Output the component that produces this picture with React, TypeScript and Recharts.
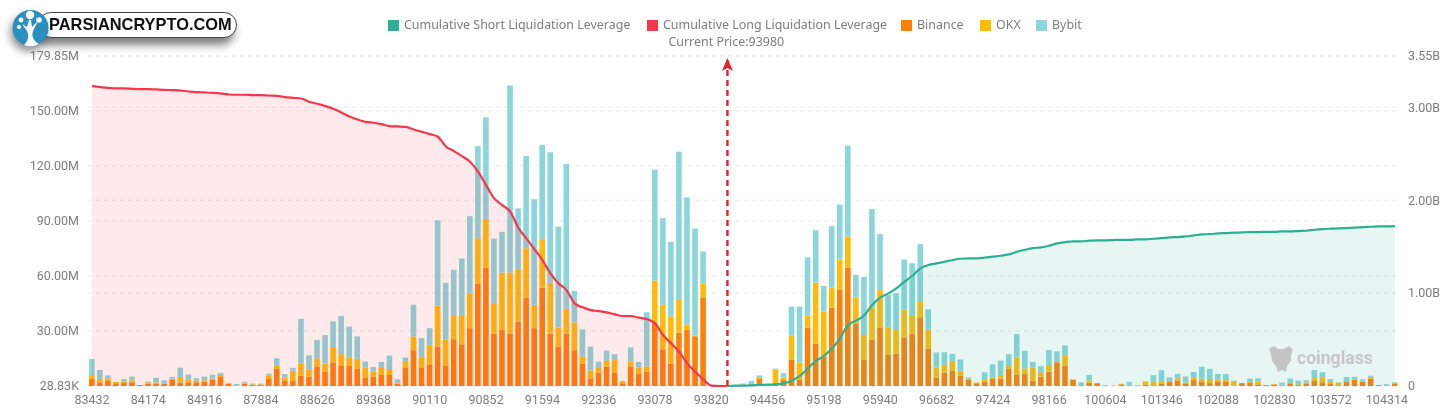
import React from "react";
import {
  ComposedChart, Bar, Area, XAxis, YAxis, CartesianGrid, ReferenceLine, Legend,
} from "recharts";

const prices = [
  83432, 83538, 83644, 83750, 83856, 83962, 84068, 84174, 84280, 84386, 84492, 84598, 84704, 84810, 84916,
  85022, 85128, 85234, 87566, 87672, 87778, 87884, 87990, 88096, 88202, 88308, 88414, 88520, 88626,
  88732, 88838, 88944, 89050, 89156, 89262, 89368, 89474, 89580, 89686, 89792, 89898, 90004, 90110,
  90216, 90322, 90428, 90534, 90640, 90746, 90852, 90958, 91064, 91170, 91276, 91382, 91488, 91594,
  91700, 91806, 91912, 92018, 92124, 92230, 92336, 92442, 92548, 92654, 92760, 92866, 92972, 93078,
  93184, 93290, 93396, 93502, 93608, 93714, 93820, 93926, 93980, 94032, 94138, 94244, 94350, 94456,
  94562, 94668, 94774, 94880, 94986, 95092, 95198, 95304, 95410, 95516, 95622, 95728, 95834, 95940,
  96046, 96152, 96258, 96364, 96470, 96576, 96682, 96788, 96894, 97000, 97106, 97212, 97318, 97424,
  97530, 97636, 97742, 97848, 97954, 98060, 98166, 98272, 98378, 100180, 100286, 100392, 100498,
  100604, 100710, 100816, 100922, 101028, 101134, 101240, 101346, 101452, 101558, 101664, 101770, 101876, 101982,
  102088, 102194, 102300, 102406, 102512, 102618, 102724, 102830, 102936, 103042, 103148, 103254, 103360, 103466,
  103572, 103678, 103784, 103890, 103996, 104102, 104208, 104314, 104420,
];

const binance = [
  3.8, 2.0, 2.7, 1.5, 1.6, 2.0, 0.5, 1.3, 1.3, 1.1, 3.3, 1.8, 2.0, 2.0, 2.4, 3.6, 4.9, 1.3, 0.2, 1.3,
  0.5, 0.5, 3.8, 9.3, 2.7, 2.7, 5.5, 5.1, 10.4, 7.8, 12.9, 10.9, 10.9, 9.3, 4.7, 5.1, 6.0, 6.0, 1.3, 9.8,
  19.5, 10.2, 11.5, 21.6, 10.9, 25.5, 22.7, 31.5, 55.8, 64.4, 28.5, 30.5, 28.5, 35.1, 48.2, 31.5, 53.6, 28.5, 21.3, 28.5,
  19.5, 12.2, 4.2, 7.1, 10.4, 7.3, 1.5, 10.7, 6.9, 7.8, 34.5, 20.0, 12.2, 29.1, 30.5, 27.1, 48.2, 0, 0, 0,
  0, 0.5, 0.5, 3.8, 0.2, 1.5, 3.3, 14.4, 3.3, 31.8, 23.1, 16.0, 42.7, 52.4, 64.5, 33.8, 14.5, 25.3, 31.6, 16.9,
  17.6, 26.5, 28.4, 37.5, 20.2, 4.5, 7.3, 8.2, 5.6, 3.3, 1.5, 2.4, 3.8, 4.0, 9.3, 6.0, 6.7, 2.9, 5.1, 7.8,
  12.9, 11.1, 3.5, 0, 1.8, 1.5, 0.2, 0.1, 0.5, 0.2, 0.2, 0.7, 0.4, 1.1, 2.2, 2.9, 1.5, 3.3, 2.5, 1.6,
  2.2, 2.5, 0.2, 1.6, 1.8, 0.9, 0.5, 0.7, 0.2, 1.1, 0.5, 1.1, 2.7, 2.0, 1.1, 0.4, 2.2, 3.3, 2.4, 4.0,
  0.5, 0.1, 1.3,
];

const okx = [
  2.2, 1.8, 1.5, 0.7, 0.9, 1.1, 0, 0.7, 0.7, 0.4, 0.7, 3.1, 1.5, 0.9, 0.7, 0.5, 1.1, 0.2, 0.2, 0.5,
  0.4, 0.4, 1.8, 1.6, 2.0, 5.6, 6.7, 4.0, 4.7, 4.4, 7.8, 6.4, 4.4, 5.5, 5.3, 2.9, 3.8, 3.3, 0.5, 3.3,
  7.5, 5.5, 10.4, 22.2, 14.4, 12.7, 15.5, 18.7, 24.7, 26.7, 16.7, 31.3, 33.3, 28.2, 26.9, 12.7, 26.5, 27.8, 10.5, 13.6,
  15.1, 4.0, 4.2, 2.7, 3.3, 6.9, 0.7, 2.5, 3.3, 2.9, 22.9, 24.4, 25.8, 17.8, 3.1, 0.5, 7.8, 0, 0, 0,
  0, 0.4, 0.5, 0.5, 0, 7.3, 1.3, 12.9, 9.5, 6.7, 33.3, 24.5, 10.9, 16.5, 16.9, 14.4, 13.3, 17.5, 20.7, 15.1,
  12.9, 15.1, 9.8, 8.7, 10.5, 5.6, 4.2, 5.5, 2.7, 0.7, 0.4, 1.3, 0.9, 2.0, 1.6, 9.6, 2.9, 7.1, 2.4, 3.6,
  0.7, 5.3, 0, 0, 1.3, 0, 0, 0.1, 0.7, 0.4, 0.2, 1.5, 2.2, 1.1, 0.5, 1.3, 0.4, 1.1, 1.6, 2.2,
  1.5, 0.7, 2.0, 0, 0.9, 1.5, 0, 0.4, 0.4, 0.7, 0.4, 0.7, 1.6, 2.4, 1.1, 1.5, 0.5, 0.2, 0.4, 1.1,
  0, 0, 0.5,
];

const bybit = [
  8.7, 4.9, 1.6, 0, 1.3, 2.0, 0, 0.4, 2.5, 1.6, 0.9, 5.1, 2.7, 1.3, 2.0, 2.0, 1.1, 0.2, 0.7, 0.5,
  0.4, 0.4, 1.1, 4.2, 1.8, 1.6, 24.4, 7.6, 10.0, 15.5, 14.5, 20.9, 17.1, 12.2, 3.3, 2.4, 3.3, 7.3, 1.8, 2.4,
  17.3, 10.4, 9.6, 46.5, 30.9, 25.1, 31.3, 42.4, 50.2, 55.3, 35.1, 22.2, 102.0, 33.5, 50.2, 57.6, 51.3, 71.1, 55.1, 78.9,
  17.3, 14.7, 13.1, 3.5, 5.6, 3.1, 0.5, 7.8, 2.9, 29.5, 60.5, 47.1, 40.5, 80.7, 69.1, 58.2, 17.3, 0, 0, 0,
  0, 0.5, 1.8, 1.5, 0.2, 0.7, 2.4, 16.0, 30.4, 31.6, 28.5, 14.0, 33.5, 30.0, 49.6, 12.4, 31.6, 53.6, 30.5, 17.6,
  20.0, 27.3, 28.7, 31.1, 11.1, 8.2, 6.9, 3.8, 6.2, 0.7, 0, 3.8, 7.1, 7.8, 6.4, 12.7, 9.6, 3.1, 3.3, 8.2,
  5.3, 5.8, 0, 2.0, 2.9, 0, 0.2, 0, 0, 1.6, 0, 0.4, 3.3, 6.4, 2.0, 2.4, 3.3, 3.3, 6.4, 5.6,
  2.9, 3.3, 0.7, 0, 1.3, 1.8, 0, 0, 1.3, 2.2, 2.0, 1.3, 4.4, 3.1, 1.6, 0.2, 2.2, 1.5, 0.9, 0.5,
  0, 0.9, 0.4,
];

const cumulativeLong = [
  3.229, 3.215, 3.208, 3.201, 3.201, 3.197, 3.194, 3.194, 3.19, 3.186, 3.183, 3.179, 3.168, 3.161, 3.158, 3.154,
  3.147, 3.136, 3.133, 3.133, 3.129, 3.129, 3.125, 3.122, 3.108, 3.1, 3.093, 3.057, 3.036, 3.011, 2.982, 2.943,
  2.9, 2.867, 2.842, 2.832, 2.817, 2.796, 2.792, 2.787, 2.76, 2.735, 2.71, 2.681, 2.577, 2.527, 2.473, 2.412,
  2.305, 2.161, 2.018, 1.946, 1.875, 1.703, 1.588, 1.473, 1.355, 1.211, 1.104, 1.032, 0.889, 0.846, 0.817, 0.806,
  0.792, 0.771, 0.753, 0.753, 0.735, 0.72, 0.674, 0.548, 0.459, 0.369, 0.244, 0.154, 0.072, 0.004, 0, 0,
];

const cumulativeShort = [
  0, 0.004, 0.004, 0.007, 0.011, 0.014, 0.018, 0.029, 0.057, 0.108, 0.19, 0.269, 0.323, 0.405, 0.513, 0.656,
  0.703, 0.76, 0.871, 0.95, 0.996, 1.05, 1.122, 1.186, 1.265, 1.301, 1.319, 1.337, 1.355, 1.369, 1.373, 1.373,
  1.38, 1.391, 1.401, 1.416, 1.444, 1.466, 1.484, 1.491, 1.509, 1.534, 1.548, 1.556, 1.556, 1.563, 1.566, 1.566,
  1.57, 1.573, 1.573, 1.577, 1.577, 1.584, 1.591, 1.599, 1.602, 1.609, 1.62, 1.631, 1.634, 1.642, 1.645, 1.649,
  1.652, 1.656, 1.656, 1.659, 1.659, 1.663, 1.663, 1.667, 1.67, 1.681, 1.688, 1.692, 1.695, 1.699, 1.703, 1.71,
  1.713, 1.717, 1.717, 1.72,
];

const SHORT_START = 79;
const CURRENT_PRICE = 93980;
const leftTicks = [0.02883, 30, 60, 90, 120, 150, 179.85];
const rightTicks = [0, 1, 2, 3, 3.55];
const legendItems = [
  { name: "Cumulative Short Liquidation Leverage", color: "#2bb096", width: 259 },
  { name: "Cumulative Long Liquidation Leverage", color: "#f6364c", width: 254 },
  { name: "Binance", color: "#ff8008", width: 79 },
  { name: "OKX", color: "#ffbb0a", width: 56 },
  { name: "Bybit", color: "#8ad6da", width: 60 },
];

const data = prices.map((price, i) => ({
  price,
  binance: binance[i],
  okx: okx[i],
  bybit: bybit[i],
  long: i < cumulativeLong.length ? cumulativeLong[i] : null,
  short: i >= SHORT_START ? cumulativeShort[i - SHORT_START] : null,
}));

const FONT = "Roboto, sans-serif";
const GREY = "#7d7d7d";
const GRID = "#ececec";

function leftLabel(v: number) {
  return v < 1 ? "28.83K" : v.toFixed(2) + "M";
}
function rightLabel(v: number) {
  return v === 0 ? "0" : v.toFixed(2) + "B";
}

function ChartLegend() {
  return (
    <div style={{ display: "flex", fontFamily: "'Noto Sans', sans-serif", fontSize: 12.45, color: GREY, lineHeight: "16px" }}>
      {legendItems.map((it) => (
        <div key={it.name} style={{ display: "flex", alignItems: "center", width: it.width, whiteSpace: "nowrap" }}>
          <span style={{ width: 11, height: 11, background: it.color, marginRight: 5, display: "inline-block" }} />
          {it.name}
        </div>
      ))}
    </div>
  );
}

function PriceLabel(props: any) {
  const { viewBox } = props;
  const x = viewBox.x;
  const top = viewBox.y;
  return (
    <g>
      <polygon points={`${x},${top + 2} ${x - 5.5},${top + 15} ${x},${top + 12} ${x + 5.5},${top + 15}`} fill="#e8202f" />
      <text x={x - 59} y={top - 10} fontSize={12.45} fontFamily="'Noto Sans', sans-serif" fill={GREY}>
        Current Price:{CURRENT_PRICE}
      </text>
    </g>
  );
}

function Logo() {
  return (
    <div style={{ position: "absolute", left: 0, top: 0, width: 260, height: 56, zIndex: 5 }}>
      <div
        style={{
          position: "absolute", left: 38, top: 12, width: 197, height: 24, borderRadius: 13,
          background: "#fff", border: "1px solid #444", boxShadow: "-3px 7px 9px rgba(0,0,0,0.5)",
        }}
      />
      <svg width={60} height={50} style={{ position: "absolute", left: 0, top: 0, overflow: "visible" }}>
        <circle cx={30.5} cy={28} r={18} fill="#2b8fc0" style={{ filter: "drop-shadow(-2px 5px 4px rgba(0,0,0,0.45))" }} />
        <path d="M24 45 C30 39 29 33 25 28 L22 24 L27 27 L29 20 L31 20 L32 27 L38 21 L34 29 C31 34 32 40 39 44 Q31 48 24 45 Z" fill="#fff" />
        <circle cx={30} cy={15} r={4.2} fill="#fff" />
        <circle cx={21} cy={20} r={2.4} fill="#fff" />
        <circle cx={39} cy={20} r={2.8} fill="#fff" />
        <circle cx={19} cy={27} r={2} fill="#fff" />
      </svg>
      <div
        style={{
          position: "absolute", left: 49, top: 14, fontFamily: "'Liberation Sans', Arial, sans-serif",
          fontSize: 16.4, fontWeight: 700, color: "#111", lineHeight: "21px", whiteSpace: "nowrap",
        }}
      >
        PARSIANCRYPTO.COM
      </div>
    </div>
  );
}

function Watermark() {
  return (
    <div style={{ position: "absolute", left: 1266, top: 343, width: 120, height: 32, zIndex: 4 }}>
      <svg width={30} height={30} style={{ position: "absolute", left: 0, top: 1 }}>
        <path d="M3 5 L8 2 L12 5 L18 5 L23 2 L27 6 L25 11 L25 17 L21 22 L20 28 L16 26 L12 28 L10 22 L6 17 L5 10 Z" fill="#c4c4c4" />
      </svg>
      <div
        style={{
          position: "absolute", left: 31, top: 3, fontFamily: "Roboto, sans-serif", fontWeight: 700,
          fontSize: 17.6, color: "#c6c6c6", lineHeight: "24px",
        }}
      >
        coinglass
      </div>
    </div>
  );
}

export default function App() {
  return (
    <div style={{ position: "absolute", left: 0, top: 0, width: 1450, height: 408, background: "#fff", overflow: "hidden", filter: "blur(0.35px)" }}>
      <ComposedChart
        width={1450}
        height={408}
        data={data}
        margin={{ top: 56, right: 10, bottom: 0, left: 8 }}
        barCategoryGap={0}
      >
        <CartesianGrid yAxisId="left" vertical={false} stroke={GRID} strokeDasharray="4 4" />
        <CartesianGrid yAxisId="right" vertical={false} stroke={GRID} strokeDasharray="4 4" />
        <XAxis
          dataKey="price"
          type="category"
          interval={6}
          height={22}
          axisLine={false}
          tickLine={false}
          tickMargin={3}
          tick={{ fontSize: 12.5, fontFamily: FONT, fill: GREY }}
        />
        <YAxis
          yAxisId="left"
          orientation="left"
          width={80}
          domain={[0.02883, 179.85]}
          ticks={leftTicks}
          interval={0}
          tickFormatter={leftLabel}
          axisLine={false}
          tickLine={false}
          tickMargin={3}
          tick={{ fontSize: 12.5, fontFamily: FONT, fill: GREY }}
        />
        <YAxis
          yAxisId="right"
          orientation="right"
          width={41}
          domain={[0, 3.55]}
          ticks={rightTicks}
          interval={0}
          tickFormatter={rightLabel}
          axisLine={false}
          tickLine={false}
          tickMargin={3}
          tick={{ fontSize: 12.5, fontFamily: FONT, fill: GREY }}
        />
        <Legend
          verticalAlign="middle"
          align="center"
          content={<ChartLegend />}
          wrapperStyle={{ position: "absolute", left: 388, top: 17, width: 720 }}
        />
        <Bar yAxisId="left" dataKey="binance" name="Binance" stackId="a" fill="#ff8008" barSize={5.6} isAnimationActive={false} zIndex={200} />
        <Bar yAxisId="left" dataKey="okx" name="OKX" stackId="a" fill="#ffbb0a" barSize={5.6} isAnimationActive={false} zIndex={200} />
        <Bar yAxisId="left" dataKey="bybit" name="Bybit" stackId="a" fill="#8ad6da" barSize={5.6} isAnimationActive={false} zIndex={200} />
        <Area
          yAxisId="right"
          dataKey="long"
          name="Cumulative Long Liquidation Leverage"
          type="monotone"
          stroke="#f6364c"
          strokeWidth={2.2}
          fill="#f6364c"
          fillOpacity={0.11}
          dot={false}
          activeDot={false}
          isAnimationActive={false}
          zIndex={400}
        />
        <Area
          yAxisId="right"
          dataKey="short"
          name="Cumulative Short Liquidation Leverage"
          type="monotone"
          stroke="#2bb096"
          strokeWidth={2.2}
          fill="#2bb096"
          fillOpacity={0.11}
          dot={false}
          activeDot={false}
          isAnimationActive={false}
          zIndex={400}
        />
        <ReferenceLine
          yAxisId="left"
          x={CURRENT_PRICE}
          stroke="#e8202f"
          strokeWidth={2.4}
          strokeDasharray="6 4"
          ifOverflow="visible"
          label={<PriceLabel />}
          zIndex={500}
        />
      </ComposedChart>
      <Logo />
      <Watermark />
    </div>
  );
}
